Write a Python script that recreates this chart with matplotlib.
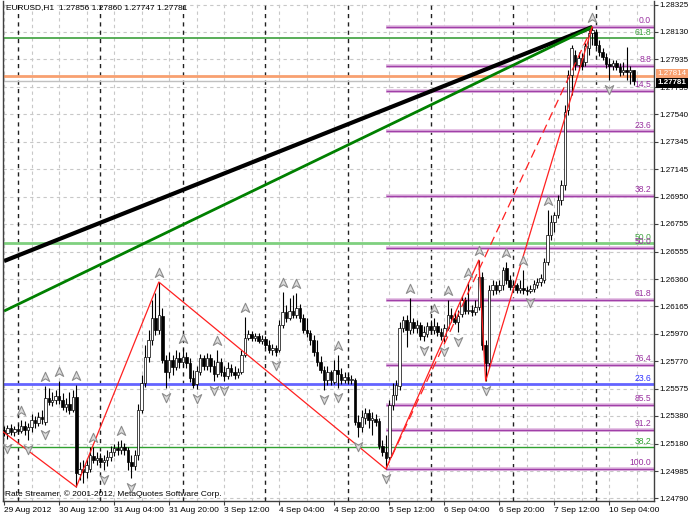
import matplotlib
matplotlib.use("Agg")
import matplotlib.pyplot as plt
from matplotlib.path import Path

plt.rcParams['font.family'] = ['Liberation Sans', 'DejaVu Sans']

# EURUSD H1, bar 0 = 29 Aug 2012 20:00 ... bar 183 = 10 Sep 2012 11:00
opens = [1.25279, 1.25258, 1.25294, 1.25265, 1.25286, 1.25272, 1.25308, 1.25279, 1.25301, 1.25351,
         1.25329, 1.25372, 1.25337, 1.25508, 1.25480, 1.25494, 1.25523, 1.25494, 1.25444, 1.25465,
         1.25422, 1.25516, 1.24964, 1.25000, 1.24979, 1.25000, 1.25093, 1.25064, 1.25079, 1.25050,
         1.25064, 1.25086, 1.25122, 1.25150, 1.25136, 1.25158, 1.25136, 1.25050, 1.25021, 1.25100,
         1.25422, 1.25616, 1.25802, 1.25924, 1.26081, 1.25995, 1.26095, 1.25780, 1.25695, 1.25780,
         1.25730, 1.25795, 1.25766, 1.25802, 1.25759, 1.25652, 1.25609, 1.25695, 1.25795, 1.25737,
         1.25795, 1.25737, 1.25680, 1.25766, 1.25695, 1.25666, 1.25723, 1.25695, 1.25673, 1.25695,
         1.25816, 1.25938, 1.25967, 1.25938, 1.25952, 1.25916, 1.25931, 1.25888, 1.25852, 1.25866,
         1.25852, 1.26031, 1.26124, 1.26081, 1.26131, 1.26103, 1.26153, 1.26081, 1.25995, 1.25974,
         1.25924, 1.25838, 1.25766, 1.25709, 1.25637, 1.25695, 1.25623, 1.25709, 1.25680, 1.25637,
         1.25659, 1.25637, 1.25637, 1.25337, 1.25301, 1.25365, 1.25401, 1.25351, 1.25358, 1.25344,
         1.25165, 1.25122, 1.25086, 1.25458, 1.25530, 1.25594, 1.26010, 1.26067, 1.25995, 1.26053,
         1.26010, 1.26031, 1.25952, 1.25967, 1.26024, 1.25995, 1.26024, 1.25981, 1.25952, 1.26010,
         1.26103, 1.26081, 1.26053, 1.26110, 1.26210, 1.26131, 1.26138, 1.26124, 1.26160, 1.26375,
         1.25888, 1.25759, 1.26282, 1.26317, 1.26282, 1.26317, 1.26439, 1.26353, 1.26303, 1.26317,
         1.26282, 1.26296, 1.26282, 1.26274, 1.26289, 1.26317, 1.26339, 1.26353, 1.26482, 1.26675,
         1.26769, 1.26819, 1.26926, 1.27033, 1.27570, 1.27821, 1.27964, 1.27893, 1.27943, 1.27914,
         1.28014, 1.28122, 1.28129, 1.28036, 1.27986, 1.27950, 1.27900, 1.27885, 1.27907, 1.27878,
         1.27843, 1.27857, 1.27843, 1.27856]
highs = [1.25308, 1.25315, 1.25322, 1.25308, 1.25322, 1.25351, 1.25344, 1.25329, 1.25394, 1.25379,
         1.25408, 1.25422, 1.25594, 1.25580, 1.25551, 1.25566, 1.25630, 1.25544, 1.25508, 1.25551,
         1.25566, 1.25601, 1.25050, 1.25064, 1.25079, 1.25158, 1.25158, 1.25122, 1.25115, 1.25100,
         1.25136, 1.25165, 1.25179, 1.25200, 1.25208, 1.25186, 1.25158, 1.25100, 1.25136, 1.25465,
         1.25673, 1.25888, 1.25995, 1.26210, 1.26260, 1.26339, 1.26153, 1.25816, 1.25838, 1.25816,
         1.25852, 1.25838, 1.25866, 1.25838, 1.25795, 1.25709, 1.25737, 1.25823, 1.25816, 1.25831,
         1.25823, 1.25780, 1.25852, 1.25795, 1.25737, 1.25766, 1.25752, 1.25737, 1.25723, 1.25852,
         1.26088, 1.25995, 1.25988, 1.25974, 1.25974, 1.25959, 1.25952, 1.25924, 1.25895, 1.25888,
         1.26067, 1.26267, 1.26174, 1.26224, 1.26246, 1.26260, 1.26181, 1.26110, 1.26081, 1.25995,
         1.25959, 1.25924, 1.25809, 1.25737, 1.25737, 1.25709, 1.25780, 1.25816, 1.25723, 1.25695,
         1.25687, 1.25673, 1.25652, 1.25387, 1.25422, 1.25437, 1.25430, 1.25408, 1.25394, 1.25365,
         1.25208, 1.25243, 1.25494, 1.25616, 1.25637, 1.26053, 1.26095, 1.26103, 1.26224, 1.26081,
         1.26067, 1.26053, 1.26024, 1.26053, 1.26067, 1.26081, 1.26053, 1.26010, 1.26038, 1.26210,
         1.26153, 1.26124, 1.26138, 1.26239, 1.26232, 1.26339, 1.26174, 1.26210, 1.26496, 1.26411,
         1.25924, 1.26317, 1.26353, 1.26346, 1.26353, 1.26446, 1.26482, 1.26389, 1.26353, 1.26332,
         1.26353, 1.26425, 1.26310, 1.26317, 1.26353, 1.26368, 1.26396, 1.26511, 1.26854, 1.26819,
         1.26840, 1.26962, 1.27069, 1.27606, 1.27857, 1.28036, 1.28000, 1.27986, 1.27979, 1.28050,
         1.28143, 1.28165, 1.28150, 1.28072, 1.28014, 1.27979, 1.27943, 1.27928, 1.27928, 1.27907,
         1.27914, 1.28022, 1.27885, 1.27860]
lows = [1.25236, 1.25215, 1.25243, 1.25236, 1.25251, 1.25258, 1.25243, 1.25208, 1.25265, 1.25294,
        1.25308, 1.25322, 1.25315, 1.25458, 1.25451, 1.25465, 1.25465, 1.25422, 1.25408, 1.25394,
        1.25408, 1.24871, 1.24921, 1.24900, 1.24936, 1.24979, 1.25043, 1.25029, 1.25021, 1.24993,
        1.25021, 1.25057, 1.25093, 1.25100, 1.25107, 1.25100, 1.24993, 1.24936, 1.24993, 1.25064,
        1.25401, 1.25587, 1.25766, 1.25888, 1.25959, 1.25967, 1.25759, 1.25580, 1.25652, 1.25673,
        1.25709, 1.25723, 1.25730, 1.25723, 1.25623, 1.25580, 1.25573, 1.25673, 1.25709, 1.25709,
        1.25695, 1.25630, 1.25659, 1.25666, 1.25630, 1.25644, 1.25666, 1.25644, 1.25652, 1.25680,
        1.25802, 1.25924, 1.25916, 1.25916, 1.25902, 1.25895, 1.25866, 1.25831, 1.25816, 1.25809,
        1.25838, 1.26010, 1.26053, 1.26067, 1.26081, 1.26081, 1.26053, 1.25974, 1.25945, 1.25888,
        1.25809, 1.25737, 1.25687, 1.25566, 1.25601, 1.25601, 1.25609, 1.25580, 1.25609, 1.25616,
        1.25609, 1.25609, 1.25315, 1.25229, 1.25265, 1.25322, 1.25294, 1.25243, 1.25308, 1.25143,
        1.25093, 1.25000, 1.25064, 1.25422, 1.25494, 1.25566, 1.25981, 1.25874, 1.25967, 1.25974,
        1.25974, 1.25924, 1.25916, 1.25945, 1.25967, 1.25967, 1.25952, 1.25924, 1.25909, 1.25995,
        1.26053, 1.26038, 1.25981, 1.26088, 1.26110, 1.26110, 1.26095, 1.26103, 1.26138, 1.25852,
        1.25630, 1.25723, 1.26246, 1.26253, 1.26267, 1.26282, 1.26325, 1.26282, 1.26274, 1.26260,
        1.26260, 1.26253, 1.26246, 1.26260, 1.26267, 1.26296, 1.26310, 1.26332, 1.26461, 1.26640,
        1.26697, 1.26797, 1.26890, 1.26998, 1.27535, 1.27678, 1.27857, 1.27857, 1.27857, 1.27885,
        1.27964, 1.28036, 1.28014, 1.27957, 1.27928, 1.27871, 1.27785, 1.27857, 1.27857, 1.27814,
        1.27821, 1.27785, 1.27757, 1.27747]
closes = [1.25258, 1.25294, 1.25265, 1.25286, 1.25272, 1.25308, 1.25279, 1.25301, 1.25351, 1.25329,
          1.25372, 1.25358, 1.25508, 1.25480, 1.25494, 1.25523, 1.25494, 1.25444, 1.25465, 1.25422,
          1.25516, 1.24971, 1.25000, 1.24979, 1.25029, 1.25100, 1.25064, 1.25079, 1.25050, 1.25064,
          1.25086, 1.25122, 1.25150, 1.25136, 1.25158, 1.25136, 1.25050, 1.25021, 1.25100, 1.25422,
          1.25616, 1.25802, 1.25924, 1.26081, 1.25995, 1.26103, 1.25780, 1.25695, 1.25780, 1.25730,
          1.25795, 1.25766, 1.25802, 1.25759, 1.25652, 1.25601, 1.25702, 1.25795, 1.25737, 1.25795,
          1.25737, 1.25680, 1.25766, 1.25695, 1.25666, 1.25723, 1.25695, 1.25673, 1.25695, 1.25816,
          1.25938, 1.25967, 1.25938, 1.25952, 1.25916, 1.25931, 1.25888, 1.25852, 1.25866, 1.25838,
          1.26031, 1.26124, 1.26081, 1.26131, 1.26103, 1.26153, 1.26081, 1.25995, 1.25974, 1.25924,
          1.25838, 1.25766, 1.25709, 1.25637, 1.25695, 1.25637, 1.25709, 1.25680, 1.25637, 1.25659,
          1.25637, 1.25644, 1.25337, 1.25301, 1.25372, 1.25401, 1.25351, 1.25365, 1.25337, 1.25165,
          1.25122, 1.25079, 1.25458, 1.25530, 1.25601, 1.26010, 1.26067, 1.25995, 1.26053, 1.26010,
          1.26031, 1.25952, 1.25981, 1.26024, 1.25995, 1.26024, 1.25981, 1.25952, 1.26010, 1.26103,
          1.26081, 1.26053, 1.26095, 1.26210, 1.26131, 1.26138, 1.26124, 1.26160, 1.26375, 1.25888,
          1.25759, 1.26282, 1.26317, 1.26282, 1.26317, 1.26425, 1.26353, 1.26303, 1.26317, 1.26282,
          1.26296, 1.26282, 1.26274, 1.26289, 1.26325, 1.26339, 1.26368, 1.26482, 1.26675, 1.26769,
          1.26819, 1.26926, 1.27033, 1.27556, 1.27821, 1.28014, 1.27893, 1.27943, 1.27885, 1.28029,
          1.28122, 1.28143, 1.28036, 1.27986, 1.27950, 1.27900, 1.27885, 1.27907, 1.27878, 1.27843,
          1.27857, 1.27843, 1.27857, 1.27781]

# Bill Williams fractals (bar indices)
up_fractals = [5, 12, 16, 21, 26, 34, 45, 52, 62, 70, 81, 85, 97, 118, 125, 129, 135, 138, 146, 151, 158, 171]
down_fractals = [1, 7, 12, 29, 37, 47, 56, 61, 64, 79, 93, 97, 103, 111, 122, 128, 132, 140, 153, 176]

# ZigZag turning points
zz_bars = [-3, 21, 45, 111, 138, 140, 171]
zz_prices = [1.25317, 1.24871, 1.26339, 1.25000, 1.26496, 1.25630, 1.28165]

# trend lines
black_line = ([0, 171], [1.26489, 1.28165])
green_line = ([0, 171], [1.26131, 1.28165])

# Fibonacci retracement 5 Sep low -> 7 Sep high
fib_start = 111
fib_hi = 1.28165
fib_lo = 1.25000
fib_levels = [0.0, 8.8, 14.5, 23.6, 38.2, 50.0, 61.8, 76.4, 85.5, 91.2, 100.0]

# other horizontal levels
hl_prices = [1.28086, 1.26618, 1.25609, 1.25158]
hl_labels = ['61.8', '50.0', '23.6', '38.2']
hl_colors = ['#3ca03c', '#7fd07f', '#6464ff', '#30a030']
hl_text = ['#3ca03c', '#40a040', '#3030ff', '#30a030']
hl_widths = [1.2, 2.0, 2.0, 1.0]

orange_price = 1.27814
bid = 1.27781

price_ticks = [1.24790, 1.24985, 1.25180, 1.25380, 1.25575, 1.25770, 1.25970, 1.26165, 1.26360,
               1.26555, 1.26755, 1.26950, 1.27145, 1.27345, 1.27540, 1.27735, 1.27935, 1.28130, 1.28325]
x_label_bars = [0, 16, 32, 48, 64, 80, 96, 112, 128, 144, 160, 176]
x_labels = ['29 Aug 2012', '30 Aug 12:00', '31 Aug 04:00', '31 Aug 20:00', '3 Sep 12:00', '4 Sep 04:00',
            '4 Sep 20:00', '5 Sep 12:00', '6 Sep 04:00', '6 Sep 20:00', '7 Sep 12:00', '10 Sep 04:00']
day_starts = [4, 28, 52, 76, 100, 124, 148, 172]

fig = plt.figure(figsize=(6.88, 5.16), dpi=100)
ax = fig.add_axes([3 / 688, 15 / 516, 651 / 688, 500 / 516])
ax.set_xlim(-0.3, 188.94)
ax.set_ylim(1.24771, 1.28351)

# grid
dash = (0, (3, 3))
for p in price_ticks:
    ax.axhline(p, color='#c8c8c8', lw=0.8, ls=dash, zorder=0)
for b in range(0, 189, 8):
    ax.axvline(b, color='#c8c8c8', lw=0.8, ls=dash, zorder=0)
for b in day_starts:
    ax.axvline(b, color='#202020', lw=1.0, ls=dash, zorder=0.5)

# horizontal levels across the whole chart
for p, lab, c, tc, w in zip(hl_prices, hl_labels, hl_colors, hl_text, hl_widths):
    ax.axhline(p, color=c, lw=w, zorder=1)
    ax.annotate(lab, xy=(1, p), xycoords=('axes fraction', 'data'), xytext=(-2, 0.5),
                textcoords='offset points', ha='right', va='bottom', fontsize=6.2, color=tc)
ax.axhline(orange_price, color='#f8a070', lw=2.0, zorder=1)
ax.axhline(bid, color='#c0c0c0', lw=1.0, zorder=1)

# fibonacci levels
for lv in fib_levels:
    p = fib_hi - lv / 100 * (fib_hi - fib_lo)
    ax.plot([fib_start, 189], [p, p], color='#e0b8e0', lw=2.6, zorder=1, solid_capstyle='butt')
    ax.plot([fib_start, 189], [p, p], color='#a040a8', lw=1.0, zorder=1.1, solid_capstyle='butt')
    ax.annotate('%.1f' % lv, xy=(1, p), xycoords=('axes fraction', 'data'), xytext=(-2, 1.2),
                textcoords='offset points', ha='right', va='bottom', fontsize=6.2, color='#9930a0')

# trend lines
ax.plot(*black_line, color='black', lw=3.0, zorder=2, solid_capstyle='butt')
ax.plot(*green_line, color='#008000', lw=2.0, zorder=2, solid_capstyle='butt')

# candles
n = len(opens)
idx = list(range(n))
ax.vlines(idx, lows, highs, color='black', lw=0.8, zorder=3)
bottoms = [min(o, c) for o, c in zip(opens, closes)]
heights = [max(abs(c - o), 0.00003) for o, c in zip(opens, closes)]
faces = ['white' if c >= o else 'black' for o, c in zip(opens, closes)]
ax.bar(idx, heights, bottom=bottoms, width=0.72, color=faces, edgecolor='black', lw=0.5, zorder=4)

# zigzag
ax.plot(zz_bars, zz_prices, color='#ff2020', lw=0.9, zorder=5)
ax.plot([zz_bars[3], zz_bars[6]], [zz_prices[3], zz_prices[6]], color='#ff2020', lw=0.9,
        ls=(0, (7, 4)), zorder=5)

# fractal arrows
up_arrow = Path([(0, 1), (0.8, -0.75), (0, -0.25), (-0.8, -0.75), (0, 1)],
                [Path.MOVETO, Path.LINETO, Path.LINETO, Path.LINETO, Path.CLOSEPOLY])
down_arrow = Path([(0, -1), (0.8, 0.75), (0, 0.25), (-0.8, 0.75), (0, -1)],
                  [Path.MOVETO, Path.LINETO, Path.LINETO, Path.LINETO, Path.CLOSEPOLY])
off = 0.00064
ax.plot(up_fractals, [highs[i] + off for i in up_fractals], ls='none', marker=up_arrow,
        ms=7.5, mfc='#dcdcdc', mec='#8c8c8c', mew=0.8, zorder=6)
ax.plot(down_fractals, [lows[i] - off for i in down_fractals], ls='none', marker=down_arrow,
        ms=7.5, mfc='#dcdcdc', mec='#8c8c8c', mew=0.8, zorder=6)

# axes styling
ax.yaxis.tick_right()
ax.set_yticks(price_ticks)
ax.set_yticklabels(['%.5f' % p for p in price_ticks])
ax.set_xticks(x_label_bars)
ax.set_xticklabels(x_labels, ha='left')
ax.tick_params(axis='x', labelsize=6, length=3, width=0.8, color='#404040', pad=1.5)
ax.tick_params(axis='y', labelsize=5.8, length=3, width=0.8, color='#404040', pad=0.8)
for s in ['left', 'right', 'bottom']:
    ax.spines[s].set_color('#404040')
    ax.spines[s].set_linewidth(1.0)
ax.spines['top'].set_visible(False)

# current price tags
ax.annotate('%.5f' % orange_price, xy=(1, orange_price), xycoords=('axes fraction', 'data'),
            xytext=(2.5, 1.5), textcoords='offset points', ha='left', va='center', fontsize=5.8,
            color='white', bbox=dict(boxstyle='square,pad=0.15', fc='#f8a070', ec='none'),
            annotation_clip=False)
ax.annotate('%.5f' % bid, xy=(1, bid), xycoords=('axes fraction', 'data'),
            xytext=(2.5, -1.5), textcoords='offset points', ha='left', va='center', fontsize=5.8,
            color='white', fontweight='bold', bbox=dict(boxstyle='square,pad=0.2', fc='black', ec='none'),
            annotation_clip=False)

ax.text(0.005, 0.994, 'EURUSD,H1  %.5f %.5f %.5f %.5f' % (opens[-1], highs[-1], lows[-1], closes[-1]),
        transform=ax.transAxes, ha='left', va='top', fontsize=6)
ax.text(0.003, 0.006, 'Rate Streamer, © 2001-2012, MetaQuotes Software Corp.',
        transform=ax.transAxes, ha='left', va='bottom', fontsize=6)

fig.savefig('out.png', dpi=100, facecolor='white')
